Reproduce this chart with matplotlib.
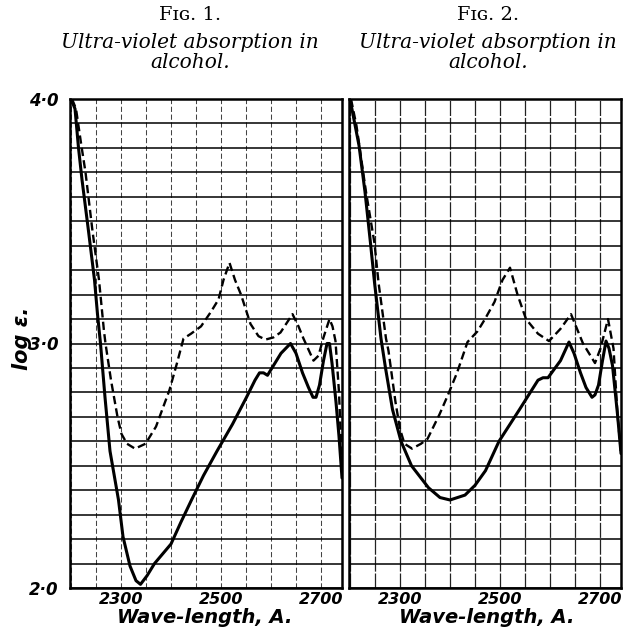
import matplotlib
matplotlib.use("Agg")
import matplotlib.pyplot as plt
from matplotlib.ticker import MultipleLocator

# ---------------- data ----------------
fig1_solid_wl = [2200, 2208, 2215, 2222, 2235, 2247, 2253, 2259, 2268, 2278, 2295, 2304,
                 2318, 2330, 2339, 2352, 2367, 2400, 2420, 2441, 2465, 2492, 2523, 2551,
                 2568, 2577, 2585, 2593, 2605, 2620, 2639, 2650, 2663, 2675, 2684, 2690,
                 2697, 2705, 2712, 2717, 2722, 2730, 2736, 2742]
fig1_solid_log = [4.00, 3.96, 3.80, 3.67, 3.46, 3.26, 3.12, 3.00, 2.78, 2.56, 2.36, 2.21,
                  2.09, 2.03, 2.015, 2.05, 2.10, 2.18, 2.27, 2.36, 2.46, 2.56, 2.67, 2.78,
                  2.85, 2.88, 2.88, 2.87, 2.91, 2.96, 3.00, 2.96, 2.88, 2.82, 2.78, 2.78,
                  2.83, 2.93, 3.00, 3.00, 2.92, 2.76, 2.62, 2.45]

fig1_dash_wl = [2202, 2210, 2220, 2229, 2243, 2256, 2266, 2269, 2280, 2293, 2301, 2312,
                2328, 2349, 2370, 2397, 2412, 2425, 2440, 2460, 2480, 2495, 2505, 2517,
                2528, 2540, 2559, 2575, 2589, 2605, 2619, 2643, 2655, 2665, 2685, 2695,
                2705, 2717, 2723, 2729, 2736, 2742]
fig1_dash_log = [4.00, 3.96, 3.82, 3.70, 3.46, 3.26, 3.05, 3.00, 2.85, 2.70, 2.63, 2.59,
                 2.57, 2.59, 2.66, 2.81, 2.92, 3.02, 3.04, 3.07, 3.13, 3.18, 3.26, 3.33,
                 3.26, 3.20, 3.08, 3.03, 3.016, 3.025, 3.045, 3.12, 3.07, 3.02, 2.93, 2.95,
                 3.025, 3.10, 3.07, 3.01, 2.80, 2.50]

fig2_solid_wl = [2200, 2218, 2230, 2241, 2249, 2262, 2271, 2285, 2302, 2323, 2357, 2380,
                 2400, 2430, 2450, 2471, 2498, 2539, 2576, 2586, 2596, 2621, 2638, 2648,
                 2661, 2672, 2684, 2690, 2697, 2705, 2712, 2718, 2725, 2735, 2742]
fig2_solid_log = [4.00, 3.81, 3.62, 3.41, 3.25, 3.02, 2.90, 2.73, 2.60, 2.50, 2.41, 2.37,
                  2.36, 2.38, 2.42, 2.48, 2.60, 2.73, 2.85, 2.86, 2.86, 2.93, 3.006, 2.96,
                  2.88, 2.82, 2.78, 2.79, 2.83, 2.93, 3.01, 2.98, 2.91, 2.71, 2.55]

fig2_dash_wl = [2202, 2213, 2232, 2249, 2257, 2272, 2277, 2291, 2300, 2309, 2324, 2342,
                2355, 2379, 2396, 2414, 2435, 2455, 2470, 2489, 2505, 2520, 2535, 2552,
                2576, 2598, 2621, 2642, 2666, 2690, 2701, 2716, 2727, 2735, 2742]
fig2_dash_log = [4.00, 3.89, 3.62, 3.41, 3.25, 3.02, 2.97, 2.76, 2.65, 2.59, 2.57, 2.59,
                 2.61, 2.71, 2.79, 2.88, 3.006, 3.05, 3.10, 3.17, 3.26, 3.31, 3.20, 3.10,
                 3.04, 3.01, 3.06, 3.12, 3.00, 2.92, 2.98, 3.10, 2.98, 2.71, 2.55]

x_ticks = [2300, 2500, 2700]
x_ticklabels = ["2300", "2500", "2700"]
y_ticks = [2.0, 3.0, 4.0]
y_ticklabels = ["2\u00b70", "3\u00b70", "4\u00b70"]

title_line1 = "Ultra-violet absorption in"
title_line2 = "alcohol."
fig_numbers = ["1.", "2."]
x_label = "Wave-length, A."
y_label = "log \u03b5."

# ---------------- figure ----------------
W, H = 626, 628
fig = plt.figure(figsize=(W / 100, H / 100), dpi=100)
fig.patch.set_facecolor("white")

def fx(px):
    return px / W

def fy(py):
    return 1 - py / H

ax_w = fx(342) - fx(70)
ax_h = fy(99) - fy(588)
ax1 = fig.add_axes([fx(70), fy(588), ax_w, ax_h])
ax2 = fig.add_axes([fx(349), fy(588), ax_w, ax_h])

sans_it = dict(family="DejaVu Sans", style="italic", weight="bold")
serif = ["DejaVu Serif"]

for i, (ax, sw, sl, dw, dl) in enumerate([
        (ax1, fig1_solid_wl, fig1_solid_log, fig1_dash_wl, fig1_dash_log),
        (ax2, fig2_solid_wl, fig2_solid_log, fig2_dash_wl, fig2_dash_log)]):
    ax.set_xlim(2198, 2742)
    ax.set_ylim(2.0, 4.0)
    ax.xaxis.set_major_locator(plt.FixedLocator(x_ticks))
    ax.xaxis.set_minor_locator(MultipleLocator(50))
    ax.yaxis.set_major_locator(plt.FixedLocator(y_ticks))
    ax.yaxis.set_minor_locator(MultipleLocator(0.1))
    ax.grid(True, which="both", axis="y", color="black", lw=1.1)
    if i == 0:
        ax.grid(True, which="both", axis="x", color="#444444", lw=0.75,
                linestyle=(0, (5, 2.5)))
    else:
        ax.grid(True, which="both", axis="x", color="#222222", lw=0.9,
                linestyle=(0, (12, 1.5)))
    ax.set_axisbelow(True)
    ax.tick_params(which="both", length=0)
    ax.set_xticks(x_ticks)
    ax.set_xticklabels(x_ticklabels, fontsize=11.5, **sans_it)
    ax.tick_params(axis="x", pad=3)
    if i == 0:
        ax.set_yticks(y_ticks)
        ax.set_yticklabels(y_ticklabels, fontsize=12, **sans_it)
        ax.tick_params(axis="y", pad=8)
    else:
        ax.set_yticklabels([])
    for sp in ax.spines.values():
        sp.set_linewidth(1.8)
        sp.set_color("black")
    ax.plot(sw, sl, color="black", lw=2.2, solid_joinstyle="round",
            solid_capstyle="round")
    ax.plot(dw, dl, color="black", lw=1.7, linestyle=(0, (3.5, 1.8)),
            dash_joinstyle="round")

# x labels (placed just below the tick labels, as in the print)
for cx in (205, 487):
    fig.text(fx(cx), fy(623), x_label, ha="center", va="baseline",
             fontsize=14, **sans_it)

# y label
fig.text(fx(22), fy(338), y_label, rotation=90, ha="center", va="center",
         fontsize=15, **sans_it)

# titles
for cx, num in [(190, fig_numbers[0]), (488, fig_numbers[1])]:
    fig.text(fx(cx), fy(15), "F\u026a\u0262. " + num, ha="center", va="center",
             fontsize=14, family=serif)
    fig.text(fx(cx), fy(42), title_line1, ha="center", va="center", fontsize=14.5,
             family=serif, style="italic")
    fig.text(fx(cx), fy(63), title_line2, ha="center", va="center", fontsize=14.5,
             family=serif, style="italic")

fig.savefig("out.png", dpi=100, facecolor="white")
